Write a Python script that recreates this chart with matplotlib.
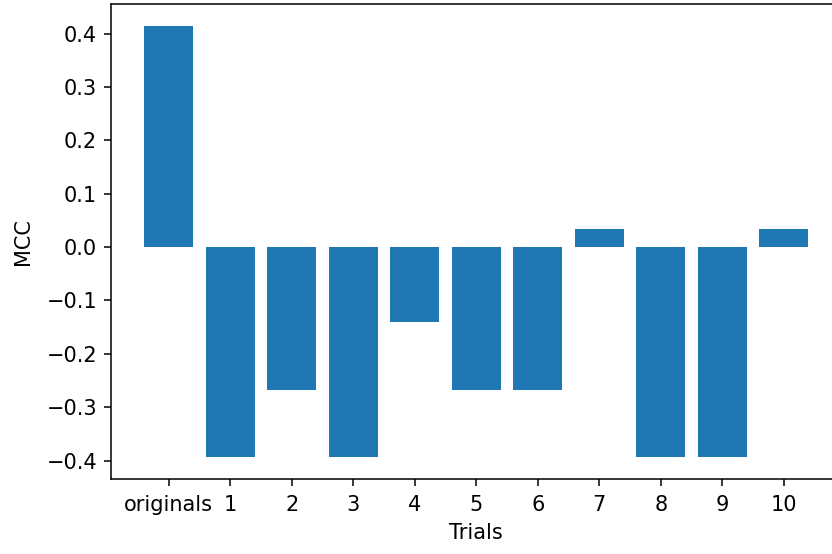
import matplotlib.pyplot as plt

# MCC per trial
labels = ['originals', '1', '2', '3', '4', '5', '6', '7', '8', '9', '10']
mcc = [0.415, -0.394, -0.267, -0.394, -0.141, -0.267, -0.267, 0.033, -0.394, -0.394, 0.033]

plt.rcParams['font.size'] = 15
plt.rcParams['axes.linewidth'] = 1.1

fig = plt.figure(figsize=(8.32, 5.54), dpi=100)
# the original is cropped on the right, so the axes run past the edge
ax = fig.add_axes([0.1334, 0.1354, 0.878, 0.8574])

ax.bar(range(len(labels)), mcc, width=0.8, color='#1f77b4')
ax.set_xticks(range(len(labels)))
ax.set_xticklabels(labels)
ax.tick_params(length=5, width=1.1, labelsize=15)
ax.tick_params(axis='x', pad=6.5)
ax.tick_params(axis='y', pad=5)

ax.set_xlabel('Trials', labelpad=6)
ax.set_ylabel('MCC', labelpad=10)

fig.savefig('out.png', dpi=100)
